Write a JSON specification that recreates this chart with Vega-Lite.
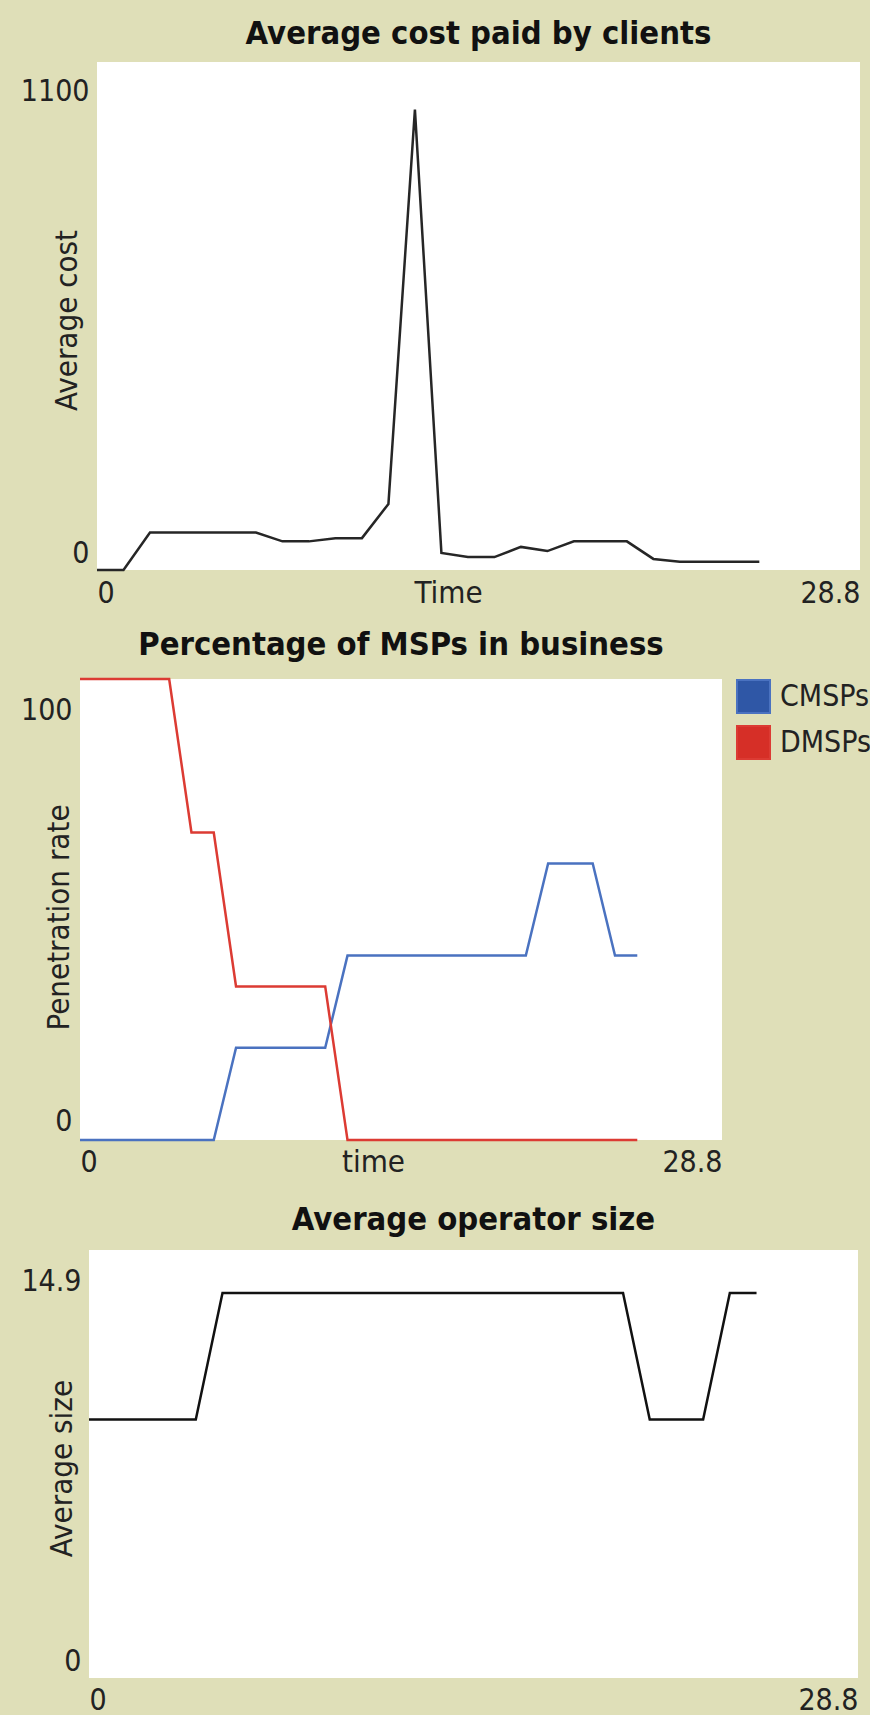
{
  "$schema": "https://vega.github.io/schema/vega-lite/v6.json",
  "background": "#DFDFB8",
  "padding": {"left": 13, "top": 17, "right": 0, "bottom": 0},
  "config": {
    "view": {"fill": "white", "stroke": null},
    "font": "DejaVu Sans Condensed, DejaVu Sans, sans-serif",
    "axis": {
      "domain": false, "ticks": false, "tickSize": 0, "grid": false,
      "labelFont": "DejaVu Sans Condensed, DejaVu Sans, sans-serif",
      "titleFont": "DejaVu Sans Condensed, DejaVu Sans, sans-serif",
      "labelFontSize": 30, "titleFontSize": 31, "titleFontWeight": "normal",
      "labelColor": "#222222", "titleColor": "#222222",
      "format": ".1~f", "labelOverlap": false
    },
    "axisX": {"labelFlush": true, "labelBaseline": "alphabetic", "labelPadding": 31, "titleBaseline": "alphabetic", "titleAlign": "center"},
    "axisY": {"labelFlush": false, "labelBaseline": "alphabetic", "labelAlign": "right", "labelPadding": 8, "titleAngle": 270, "titleBaseline": "alphabetic", "titleAlign": "center"},
    "title": {"font": "DejaVu Sans Condensed, DejaVu Sans, sans-serif", "fontSize": 32.5, "fontWeight": "bold", "color": "#111111", "baseline": "alphabetic", "frame": "group", "anchor": "middle"},
    "legend": {"labelFont": "DejaVu Sans Condensed, DejaVu Sans, sans-serif"}
  },
  "datasets": {
    "cost": [
      {"t": 0, "v": 0}, {"t": 1, "v": 0}, {"t": 2, "v": 81}, {"t": 3, "v": 81}, {"t": 4, "v": 81},
      {"t": 5, "v": 81}, {"t": 6, "v": 81}, {"t": 7, "v": 62}, {"t": 8, "v": 62}, {"t": 9, "v": 69},
      {"t": 10, "v": 69}, {"t": 11, "v": 143}, {"t": 12, "v": 997}, {"t": 13, "v": 37}, {"t": 14, "v": 28},
      {"t": 15, "v": 28}, {"t": 16, "v": 50}, {"t": 17, "v": 41}, {"t": 18, "v": 62}, {"t": 19, "v": 62},
      {"t": 20, "v": 62}, {"t": 21, "v": 24}, {"t": 22, "v": 18}, {"t": 23, "v": 18}, {"t": 24, "v": 18},
      {"t": 25, "v": 18}
    ],
    "msp": [
      {"t": 0, "v": 0, "s": "CMSPs"}, {"t": 1, "v": 0, "s": "CMSPs"}, {"t": 2, "v": 0, "s": "CMSPs"},
      {"t": 3, "v": 0, "s": "CMSPs"}, {"t": 4, "v": 0, "s": "CMSPs"}, {"t": 5, "v": 0, "s": "CMSPs"},
      {"t": 6, "v": 0, "s": "CMSPs"}, {"t": 7, "v": 20, "s": "CMSPs"}, {"t": 8, "v": 20, "s": "CMSPs"},
      {"t": 9, "v": 20, "s": "CMSPs"}, {"t": 10, "v": 20, "s": "CMSPs"}, {"t": 11, "v": 20, "s": "CMSPs"},
      {"t": 12, "v": 40, "s": "CMSPs"}, {"t": 13, "v": 40, "s": "CMSPs"}, {"t": 14, "v": 40, "s": "CMSPs"},
      {"t": 15, "v": 40, "s": "CMSPs"}, {"t": 16, "v": 40, "s": "CMSPs"}, {"t": 17, "v": 40, "s": "CMSPs"},
      {"t": 18, "v": 40, "s": "CMSPs"}, {"t": 19, "v": 40, "s": "CMSPs"}, {"t": 20, "v": 40, "s": "CMSPs"},
      {"t": 21, "v": 60, "s": "CMSPs"}, {"t": 22, "v": 60, "s": "CMSPs"}, {"t": 23, "v": 60, "s": "CMSPs"},
      {"t": 24, "v": 40, "s": "CMSPs"}, {"t": 25, "v": 40, "s": "CMSPs"},
      {"t": 0, "v": 100, "s": "DMSPs"}, {"t": 1, "v": 100, "s": "DMSPs"}, {"t": 2, "v": 100, "s": "DMSPs"},
      {"t": 3, "v": 100, "s": "DMSPs"}, {"t": 4, "v": 100, "s": "DMSPs"}, {"t": 5, "v": 66.7, "s": "DMSPs"},
      {"t": 6, "v": 66.7, "s": "DMSPs"}, {"t": 7, "v": 33.3, "s": "DMSPs"}, {"t": 8, "v": 33.3, "s": "DMSPs"},
      {"t": 9, "v": 33.3, "s": "DMSPs"}, {"t": 10, "v": 33.3, "s": "DMSPs"}, {"t": 11, "v": 33.3, "s": "DMSPs"},
      {"t": 12, "v": 0, "s": "DMSPs"}, {"t": 13, "v": 0, "s": "DMSPs"}, {"t": 14, "v": 0, "s": "DMSPs"},
      {"t": 15, "v": 0, "s": "DMSPs"}, {"t": 16, "v": 0, "s": "DMSPs"}, {"t": 17, "v": 0, "s": "DMSPs"},
      {"t": 18, "v": 0, "s": "DMSPs"}, {"t": 19, "v": 0, "s": "DMSPs"}, {"t": 20, "v": 0, "s": "DMSPs"},
      {"t": 21, "v": 0, "s": "DMSPs"}, {"t": 22, "v": 0, "s": "DMSPs"}, {"t": 23, "v": 0, "s": "DMSPs"},
      {"t": 24, "v": 0, "s": "DMSPs"}, {"t": 25, "v": 0, "s": "DMSPs"}
    ],
    "size": [
      {"t": 0, "v": 9.0}, {"t": 1, "v": 9.0}, {"t": 2, "v": 9.0}, {"t": 3, "v": 9.0}, {"t": 4, "v": 9.0},
      {"t": 5, "v": 13.4}, {"t": 6, "v": 13.4}, {"t": 7, "v": 13.4}, {"t": 8, "v": 13.4}, {"t": 9, "v": 13.4},
      {"t": 10, "v": 13.4}, {"t": 11, "v": 13.4}, {"t": 12, "v": 13.4}, {"t": 13, "v": 13.4}, {"t": 14, "v": 13.4},
      {"t": 15, "v": 13.4}, {"t": 16, "v": 13.4}, {"t": 17, "v": 13.4}, {"t": 18, "v": 13.4}, {"t": 19, "v": 13.4},
      {"t": 20, "v": 13.4}, {"t": 21, "v": 9.0}, {"t": 22, "v": 9.0}, {"t": 23, "v": 9.0}, {"t": 24, "v": 13.4},
      {"t": 25, "v": 13.4}
    ],
    "blank": [{"k": 1}]
  },
  "columns": 1,
  "align": "none",
  "spacing": 20,
  "resolve": {"scale": {"color": "independent", "fill": "independent", "stroke": "independent"}, "legend": {"color": "independent", "fill": "independent", "stroke": "independent"}},
  "concat": [
    {
      "hconcat": [
        {"width": 1, "height": 1, "data": {"name": "blank"}, "view": {"fill": null, "stroke": null},
         "mark": {"type": "point", "opacity": 0}, "encoding": {}},
        {
          "width": 763, "height": 508,
          "title": {"text": "Average cost paid by clients", "offset": 12},
          "data": {"name": "cost"},
          "mark": {"type": "line", "color": "#262626", "strokeWidth": 2.5},
          "encoding": {
            "x": {"field": "t", "type": "quantitative", "scale": {"domain": [0, 28.8], "nice": false, "zero": false},
                  "axis": {"title": "Time", "values": [0, 28.8], "titleX": 351, "titleY": 32, "labelPadding": 32}},
            "y": {"field": "v", "type": "quantitative", "scale": {"domain": [0, 1100], "nice": false},
                  "axis": {"title": "Average cost", "values": [0, 1100], "titleX": -21, "titleY": 258,
                           "labelOffset": {"condition": {"test": "datum.value == 0", "value": -8}, "value": 38}}}
          }
        }
      ],
      "spacing": 0
    },
    {
      "columns": 1,
      "align": "none",
      "spacing": 26,
      "resolve": {"scale": {"color": "independent", "fill": "independent", "stroke": "independent"}, "legend": {"color": "independent", "fill": "independent", "stroke": "independent"}},
      "concat": [
        {
          "hconcat": [
            {"width": 1, "height": 1, "data": {"name": "blank"}, "view": {"fill": null, "stroke": null},
             "mark": {"type": "point", "opacity": 0}, "encoding": {}},
            {
              "width": 642, "height": 461,
              "title": {"text": "Percentage of MSPs in business", "offset": 13},
              "data": {"name": "msp"},
              "mark": {"type": "line", "strokeWidth": 2.5, "fillOpacity": 0},
              "encoding": {
                "x": {"field": "t", "type": "quantitative", "scale": {"domain": [0, 28.8], "nice": false, "zero": false},
                      "axis": {"title": "time", "values": [0, 28.8], "titleX": 293, "titleY": 31}},
                "y": {"field": "v", "type": "quantitative", "scale": {"domain": [0, 100], "nice": false},
                      "axis": {"title": "Penetration rate", "values": [0, 100], "titleX": -12, "titleY": 238,
                               "labelOffset": {"condition": {"test": "datum.value == 0", "value": -10}, "value": 40}}},
                "stroke": {"field": "s", "type": "nominal",
                           "scale": {"domain": ["CMSPs", "DMSPs"], "range": ["#4A72C0", "#DC3B33"]},
                           "legend": null},
                "fill": {"field": "s", "type": "nominal",
                         "scale": {"domain": ["CMSPs", "DMSPs"], "range": ["#2F57A6", "#D62F27"]},
                         "legend": {"title": null, "orient": "right", "offset": 14, "padding": 0,
                                    "symbolType": "square", "symbolSize": 1089, "symbolStrokeColor": "#111111",
                                    "symbolStrokeWidth": 2, "symbolOpacity": 1, "labelFontSize": 30, "labelColor": "#222222",
                                    "labelOffset": 9, "rowPadding": 5,
                                    "encode": {"symbols": {"update": {
                                      "stroke": {"value": "#111111"},
                                      "strokeWidth": {"value": 2},
                                      "opacity": {"value": 1},
                                      "fillOpacity": {"value": 1}
                                    }}}}}
              }
            }
          ],
          "spacing": 0,
          "resolve": {"scale": {"color": "independent", "fill": "independent", "stroke": "independent"}, "legend": {"color": "independent", "fill": "independent", "stroke": "independent"}}
        },
        {
          "hconcat": [
            {"width": 1, "height": 1, "data": {"name": "blank"}, "view": {"fill": null, "stroke": null},
             "mark": {"type": "point", "opacity": 0}, "encoding": {}},
            {
              "width": 769, "height": 428,
              "title": {"text": "Average operator size", "offset": 14},
              "data": {"name": "size"},
              "mark": {"type": "line", "color": "#111111", "strokeWidth": 2.5},
              "encoding": {
                "x": {"field": "t", "type": "quantitative", "scale": {"domain": [0, 28.8], "nice": false, "zero": false},
                      "axis": {"title": null, "values": [0, 28.8]}},
                "y": {"field": "v", "type": "quantitative", "scale": {"domain": [0, 14.9], "nice": false},
                      "axis": {"title": "Average size", "values": [0, 14.9], "titleX": -18, "titleY": 218,
                               "labelOffset": {"condition": {"test": "datum.value == 0", "value": -8}, "value": 40}}}
              }
            }
          ],
          "spacing": 0
        }
      ]
    }
  ]
}
